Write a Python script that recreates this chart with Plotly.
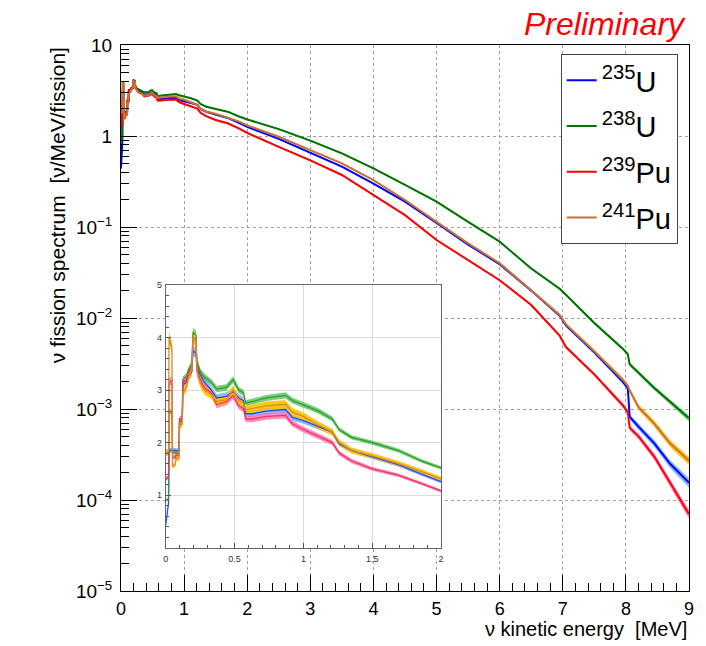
import plotly.graph_objects as go

# ---------------- data ----------------
energy = [0.000, 0.020, 0.024, 0.045, 0.049, 0.070, 0.074, 0.096, 0.100, 0.120,
          0.124, 0.150, 0.160, 0.190, 0.198, 0.220, 0.226, 0.250, 0.280, 0.330,
          0.370, 0.440, 0.490, 0.530, 0.565, 0.580, 0.630, 0.730, 0.870, 0.920,
          1.000, 1.110, 1.210, 1.260, 1.350, 1.500, 1.690, 1.860, 2.000, 2.500,
          3.000, 3.500, 4.000, 4.500, 5.000, 5.500, 6.000, 6.500, 6.950, 7.050,
          7.500, 7.950, 8.030, 8.060, 8.200, 8.450, 8.700, 9.000]

u235 = [0.44, 0.85, 1.85, 1.86, 1.85, 1.85, 1.85, 1.84, 2.40, 2.42,
        3.10, 3.15, 3.25, 3.35, 3.75, 3.70, 3.45, 3.30, 3.15, 3.00,
        2.85, 2.88, 2.97, 2.85, 2.80, 2.55, 2.55, 2.60, 2.63, 2.48,
        2.42, 2.30, 2.20, 1.98, 1.85, 1.73, 1.58, 1.40, 1.26, 0.93,
        0.65, 0.46, 0.30, 0.19, 0.111, 0.064, 0.039, 0.020, 0.0106, 0.0083,
        0.0042, 0.0020, 0.0017, 0.00082, 0.00064, 0.00042, 0.00025, 0.000155]

u238 = [0.90, 0.92, 2.60, 2.58, 1.82, 1.80, 1.80, 1.80, 2.40, 2.40,
        3.20, 3.25, 3.35, 3.50, 4.10, 4.05, 3.55, 3.35, 3.25, 3.15,
        3.02, 3.05, 3.20, 3.00, 2.95, 2.75, 2.78, 2.85, 2.90, 2.80,
        2.72, 2.60, 2.45, 2.25, 2.10, 2.00, 1.85, 1.65, 1.52, 1.19,
        0.89, 0.645, 0.44, 0.29, 0.19, 0.114, 0.069, 0.035, 0.021, 0.018,
        0.0088, 0.0046, 0.0040, 0.0031, 0.0025, 0.0017, 0.0012, 0.00079]

pu239 = [1.30, 1.35, 3.15, 3.18, 1.72, 1.72, 1.76, 1.75, 2.45, 2.45,
         3.15, 3.20, 3.30, 3.45, 4.00, 3.95, 3.45, 3.20, 3.05, 2.95,
         2.72, 2.78, 2.90, 2.70, 2.65, 2.45, 2.45, 2.50, 2.52, 2.36,
         2.25, 2.12, 2.00, 1.80, 1.65, 1.50, 1.38, 1.22, 1.08, 0.76,
         0.54, 0.373, 0.225, 0.135, 0.072, 0.043, 0.026, 0.0139, 0.0064, 0.0048,
         0.0024, 0.0011, 0.00092, 0.00062, 0.00050, 0.00030, 0.000155, 0.000070]

pu241 = [1.80, 1.83, 4.00, 3.80, 1.55, 1.58, 1.70, 1.70, 2.35, 2.35,
         2.95, 3.05, 3.20, 3.40, 4.00, 3.95, 3.35, 3.15, 3.00, 2.92,
         2.78, 2.82, 3.00, 2.80, 2.75, 2.62, 2.65, 2.70, 2.73, 2.58,
         2.50, 2.33, 2.20, 2.00, 1.85, 1.75, 1.60, 1.45, 1.31, 0.98,
         0.70, 0.50, 0.328, 0.198, 0.114, 0.066, 0.040, 0.020, 0.0108, 0.0085,
         0.0043, 0.0021, 0.0018, 0.0016, 0.00105, 0.00069, 0.00042, 0.00027]

# relative uncertainty (half-width of the shaded band)
err_u235 = [0.03, 0.03, 0.025, 0.025, 0.025, 0.025, 0.025, 0.025, 0.025, 0.025,
            0.025, 0.025, 0.025, 0.025, 0.025, 0.025, 0.025, 0.025, 0.025, 0.025,
            0.025, 0.025, 0.025, 0.025, 0.025, 0.025, 0.025, 0.025, 0.025, 0.025,
            0.025, 0.025, 0.025, 0.025, 0.025, 0.025, 0.025, 0.025, 0.025, 0.02,
            0.02, 0.02, 0.02, 0.02, 0.02, 0.02, 0.025, 0.03, 0.035, 0.04,
            0.05, 0.06, 0.065, 0.07, 0.08, 0.09, 0.10, 0.12]
err_u238 = [0.03, 0.03, 0.02, 0.02, 0.02, 0.02, 0.02, 0.02, 0.02, 0.02,
            0.02, 0.02, 0.02, 0.02, 0.02, 0.02, 0.02, 0.02, 0.02, 0.02,
            0.02, 0.02, 0.02, 0.02, 0.02, 0.02, 0.02, 0.02, 0.02, 0.02,
            0.02, 0.02, 0.02, 0.02, 0.02, 0.02, 0.02, 0.02, 0.02, 0.02,
            0.02, 0.02, 0.02, 0.02, 0.02, 0.02, 0.02, 0.025, 0.03, 0.03,
            0.035, 0.04, 0.045, 0.045, 0.05, 0.055, 0.06, 0.075]
err_pu239 = [0.03, 0.03, 0.025, 0.025, 0.025, 0.025, 0.025, 0.025, 0.025, 0.025,
             0.025, 0.025, 0.025, 0.025, 0.025, 0.025, 0.025, 0.025, 0.025, 0.025,
             0.025, 0.025, 0.025, 0.025, 0.025, 0.025, 0.025, 0.025, 0.025, 0.025,
             0.025, 0.025, 0.025, 0.025, 0.025, 0.025, 0.025, 0.025, 0.025, 0.02,
             0.02, 0.02, 0.02, 0.02, 0.02, 0.02, 0.025, 0.03, 0.035, 0.04,
             0.045, 0.055, 0.06, 0.065, 0.07, 0.08, 0.09, 0.11]
err_pu241 = [0.035, 0.035, 0.03, 0.03, 0.03, 0.03, 0.03, 0.03, 0.03, 0.03,
             0.03, 0.03, 0.03, 0.03, 0.03, 0.03, 0.03, 0.03, 0.03, 0.03,
             0.03, 0.03, 0.03, 0.03, 0.03, 0.03, 0.03, 0.03, 0.03, 0.03,
             0.03, 0.03, 0.03, 0.03, 0.03, 0.03, 0.03, 0.03, 0.03, 0.02,
             0.02, 0.02, 0.02, 0.02, 0.02, 0.02, 0.025, 0.03, 0.035, 0.04,
             0.045, 0.055, 0.06, 0.065, 0.07, 0.08, 0.09, 0.10]

names = ["<sup>235</sup>U", "<sup>238</sup>U", "<sup>239</sup>Pu", "<sup>241</sup>Pu"]
series = [u235, u238, pu239, pu241]
errors = [err_u235, err_u238, err_pu239, err_pu241]

x_tick_vals = [0, 1, 2, 3, 4, 5, 6, 7, 8, 9]
y_tick_vals = [1e-5, 1e-4, 1e-3, 1e-2, 1e-1, 1, 10]
y_tick_text = ["10<sup>\u22125</sup>", "10<sup>\u22124</sup>", "10<sup>\u22123</sup>",
               "10<sup>\u22122</sup>", "10<sup>\u22121</sup>", "1", "10"]
inset_x_ticks = [0, 0.5, 1, 1.5, 2]
inset_y_ticks = [1, 2, 3, 4, 5]

# ---------------- styles ----------------
line_colors = ["#0000ff", "#007400", "#ff0000", "#c8703c"]
band_colors = ["rgba(110,170,255,0.8)", "rgba(90,195,90,0.8)",
               "rgba(255,110,180,0.8)", "rgba(255,195,0,0.9)"]
inset_line_colors = ["#2a48ff", "#2e9e2e", "#ff3050", "#d98a2a"]
FONT = "Liberation Sans, Arial, Helvetica, sans-serif"

fig = go.Figure()

# main plot bands
for s, e, bc in zip(series, errors, band_colors):
    lo = [v * (1 - r) for v, r in zip(s, e)]
    hi = [v * (1 + r) for v, r in zip(s, e)]
    fig.add_trace(go.Scatter(x=energy, y=lo, mode="lines", line=dict(width=0, color=bc),
                             showlegend=False, hoverinfo="skip", xaxis="x", yaxis="y"))
    fig.add_trace(go.Scatter(x=energy, y=hi, mode="lines", line=dict(width=0, color=bc),
                             fill="tonexty", fillcolor=bc, showlegend=False,
                             hoverinfo="skip", xaxis="x", yaxis="y"))
# main plot lines
for i, (s, n, lc) in enumerate(zip(series, names, line_colors)):
    fig.add_trace(go.Scatter(x=energy, y=s, mode="lines", name=n,
                             line=dict(color=lc, width=2), legendgroup=f"g{i}",
                             xaxis="x", yaxis="y"))

# inset bands and lines
for s, e, bc in zip(series, errors, band_colors):
    lo = [v * (1 - r) for v, r in zip(s, e)]
    hi = [v * (1 + r) for v, r in zip(s, e)]
    fig.add_trace(go.Scatter(x=energy, y=lo, mode="lines", line=dict(width=0, color=bc),
                             showlegend=False, hoverinfo="skip", xaxis="x2", yaxis="y2"))
    fig.add_trace(go.Scatter(x=energy, y=hi, mode="lines", line=dict(width=0, color=bc),
                             fill="tonexty", fillcolor=bc, showlegend=False,
                             hoverinfo="skip", xaxis="x2", yaxis="y2"))
for s, lc in zip(series, inset_line_colors):
    fig.add_trace(go.Scatter(x=energy, y=s, mode="lines", line=dict(color=lc, width=1.3),
                             showlegend=False, xaxis="x2", yaxis="y2"))

x_minor = [round(k * 0.2, 2) for k in range(46) if k % 5 != 0]
y_minor = [m * 10.0 ** p for p in range(-5, 1) for m in range(2, 10)]

fig.update_layout(
    width=706, height=646,
    margin=dict(l=121, r=14, t=45, b=55),
    paper_bgcolor="white", plot_bgcolor="white",
    font=dict(family=FONT, color="black"),
    xaxis=dict(domain=[0, 1], anchor="y", range=[0, 9], tickmode="array",
               tickvals=x_tick_vals, ticks="inside", ticklen=16, tickcolor="black",
               showline=True, linecolor="black", linewidth=1, mirror=True,
               showgrid=True, gridcolor="#a0a0a0", griddash="dot", gridwidth=1,
               zeroline=False, tickfont=dict(size=18, family=FONT),
               ticklabelstandoff=1,
               minor=dict(tickmode="array", tickvals=x_minor, ticks="inside",
                          ticklen=8, tickcolor="black", showgrid=False)),
    yaxis=dict(domain=[0, 1], anchor="x", type="log", range=[-5, 1], tickmode="array",
               tickvals=y_tick_vals, ticktext=y_tick_text, ticks="inside", ticklen=16,
               tickcolor="black", showline=True, linecolor="black", linewidth=1,
               mirror=True, showgrid=True, gridcolor="#a0a0a0", griddash="dot",
               gridwidth=1, zeroline=False, tickfont=dict(size=19, family=FONT),
               ticklabelstandoff=4,
               minor=dict(tickmode="array", tickvals=y_minor, ticks="inside",
                          ticklen=8, tickcolor="black", showgrid=False)),
    xaxis2=dict(domain=[0.0788, 0.5634], anchor="y2", range=[0, 2], tickmode="array",
                tickvals=inset_x_ticks, ticks="inside", ticklen=5, tickcolor="#555",
                showline=True, linecolor="#666", linewidth=1, mirror=True,
                showgrid=True, gridcolor="#dcdcdc", gridwidth=1, zeroline=False,
                tickfont=dict(size=9, color="#333", family=FONT), ticklabelstandoff=2,
                minor=dict(dtick=0.1, ticks="inside", ticklen=3, tickcolor="#555",
                           showgrid=False)),
    yaxis2=dict(domain=[0.0793, 0.5604], anchor="x2", range=[0, 5], tickmode="array",
                tickvals=inset_y_ticks, ticks="inside", ticklen=5, tickcolor="#555",
                showline=True, linecolor="#666", linewidth=1, mirror=True,
                showgrid=True, gridcolor="#dcdcdc", gridwidth=1, zeroline=False,
                tickfont=dict(size=9, color="#333", family=FONT), ticklabelstandoff=1,
                minor=dict(dtick=0.2, ticks="inside", ticklen=3, tickcolor="#555",
                           showgrid=False)),
    legend=dict(x=(563 - 121) / 571, y=(591 - 54) / 546, xanchor="left", yanchor="top",
                bgcolor="white", bordercolor="#444", borderwidth=1,
                font=dict(size=29, family=FONT, color="black"),
                tracegroupgap=5, itemwidth=30),
    showlegend=True,
)

fig.add_shape(type="rect", xref="x2", yref="y2", x0=-0.096, x1=2.024, y0=-0.272, y1=5.171,
              layer="below", fillcolor="white", line=dict(color="black", width=2))

fig.add_annotation(text="\u03bd kinetic energy  [MeV]", xref="paper", yref="paper",
                   x=1.0, y=(591 - 629) / 546, xanchor="right", yanchor="middle",
                   showarrow=False, font=dict(size=20, family=FONT, color="black"))
fig.add_annotation(text="\u03bd fission spectrum  [\u03bd/MeV/fission]", xref="paper",
                   yref="paper", x=(57 - 121) / 571, y=1.0, xanchor="center",
                   yanchor="top", textangle=-90, showarrow=False,
                   font=dict(size=21, family=FONT, color="black"))
fig.add_annotation(text="<i>Preliminary</i>", xref="paper", yref="paper",
                   x=(691 - 121) / 571, y=(591 - 24) / 546, xanchor="right",
                   yanchor="middle", showarrow=False,
                   font=dict(size=32, family=FONT, color="#ff0000"))

fig.write_html("out.html")
